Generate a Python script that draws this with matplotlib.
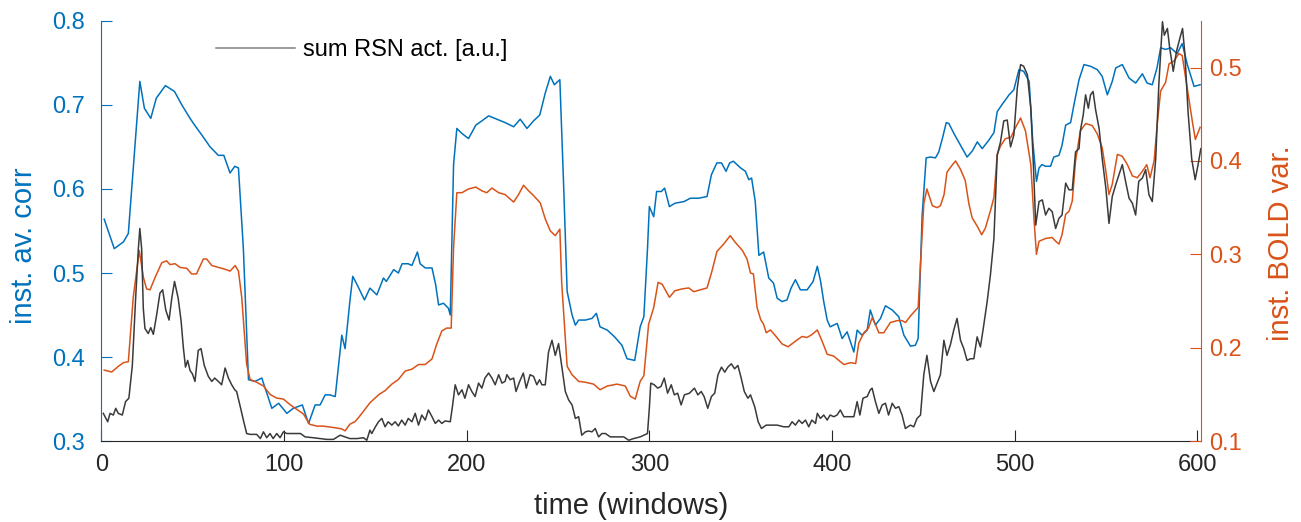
import matplotlib
matplotlib.use('Agg')
import matplotlib.pyplot as plt

# instantaneous average correlation (left axis)
corr_win = [1.5, 7, 12, 14.7, 21, 23.5, 27, 30, 35, 40, 44, 48.5, 51, 55, 59.5, 64, 67, 70.4, 73, 75,
            77.7, 80.5, 84, 87.8, 89.6, 93.3, 97, 101.5, 105, 110, 111.5, 113.4, 117, 119.7, 122.5, 125, 128,
            131.6, 133.4, 136, 137.6, 140, 144, 147, 150.8, 154.4, 156, 160, 162.6, 164.6, 168, 170, 173,
            174.5, 177.3, 181, 183, 184.6, 187.3, 190, 191, 192.8, 194.6, 197.4, 201, 205, 208.3, 212, 216.5,
            221, 225.7, 229.3, 233, 236.6, 240, 243, 245.8, 248, 251, 253, 255, 257.7, 259.5, 261.3, 265,
            268.6, 271, 273, 277, 281, 285, 287.8, 292, 295, 297, 299, 300, 302.4, 304, 306.6, 308.4, 311,
            314, 319, 322.5, 327, 331.6, 334, 337, 339.5, 342, 344, 346, 350, 352.6, 354.5, 356, 358, 360,
            362.6, 365.4, 368, 370, 372.7, 375.4, 377.6, 380, 382.7, 386.4, 389.7, 392, 393.8, 395.5, 397.4,
            399, 402.9, 405.6, 408.3, 412, 413.8, 416.5, 419.3, 421, 423.8, 426.6, 429.3, 433, 436.6, 439.4,
            443, 445.7, 447.2, 449.4, 451.6, 454, 456.7, 458.5, 460.7, 462.6, 464, 466.8, 470.4, 474, 476.8,
            479.6, 482.3, 485.9, 488.7, 490.5, 493, 497, 499.6, 502.4, 505, 508, 510, 512, 513.4, 515, 517,
            519.7, 521.5, 524.3, 526, 528, 530.7, 532.5, 535.3, 538, 541.6, 545.3, 548, 550.8, 553.5, 555.4,
            559, 562.7, 566.3, 570, 572.6, 575.4, 578, 580, 582.7, 585.5, 589, 591.8, 594.6, 598.3, 601.6]
corr = [0.564, 0.529, 0.537, 0.547, 0.728, 0.696, 0.684, 0.708, 0.723, 0.716, 0.700, 0.684, 0.676, 0.664,
        0.650, 0.640, 0.640, 0.619, 0.627, 0.625, 0.529, 0.373, 0.371, 0.375, 0.363, 0.339, 0.345, 0.333,
        0.339, 0.343, 0.333, 0.321, 0.343, 0.343, 0.355, 0.355, 0.353, 0.426, 0.410, 0.466, 0.496, 0.486,
        0.468, 0.482, 0.474, 0.494, 0.490, 0.504, 0.500, 0.511, 0.511, 0.509, 0.525, 0.511, 0.506, 0.506,
        0.486, 0.462, 0.464, 0.458, 0.450, 0.629, 0.672, 0.666, 0.660, 0.676, 0.681, 0.687, 0.683, 0.679,
        0.674, 0.683, 0.672, 0.681, 0.688, 0.714, 0.734, 0.724, 0.730, 0.609, 0.478, 0.450, 0.438, 0.444,
        0.444, 0.446, 0.452, 0.436, 0.432, 0.424, 0.414, 0.398, 0.396, 0.436, 0.448, 0.529, 0.579, 0.567,
        0.597, 0.597, 0.601, 0.579, 0.583, 0.585, 0.589, 0.589, 0.591, 0.617, 0.631, 0.631, 0.621, 0.631,
        0.633, 0.625, 0.621, 0.611, 0.613, 0.585, 0.521, 0.525, 0.494, 0.488, 0.470, 0.466, 0.468, 0.482,
        0.492, 0.480, 0.480, 0.490, 0.508, 0.490, 0.466, 0.444, 0.436, 0.440, 0.422, 0.430, 0.406, 0.432,
        0.426, 0.432, 0.456, 0.438, 0.446, 0.461, 0.456, 0.448, 0.426, 0.413, 0.414, 0.422, 0.569, 0.637,
        0.638, 0.637, 0.644, 0.662, 0.679, 0.678, 0.666, 0.652, 0.638, 0.645, 0.656, 0.648, 0.658, 0.667,
        0.692, 0.700, 0.712, 0.718, 0.742, 0.740, 0.728, 0.656, 0.609, 0.625, 0.629, 0.627, 0.627, 0.638,
        0.640, 0.652, 0.676, 0.679, 0.700, 0.730, 0.748, 0.746, 0.742, 0.734, 0.712, 0.728, 0.744, 0.748,
        0.732, 0.726, 0.737, 0.726, 0.724, 0.744, 0.768, 0.766, 0.768, 0.761, 0.773, 0.748, 0.722, 0.724]

# instantaneous BOLD variance (right axis)
bold_win = [1.5, 5.6, 9.2, 12, 14.7, 17.4, 20.7, 23, 24.7, 26.6, 29.3, 33, 35.7, 37.5, 40.3, 43, 46.7, 49.4,
            52, 55.8, 57.6, 60.4, 64, 67.7, 70.4, 73.2, 75, 76.8, 79.5, 81.4, 85, 88.7, 92.3, 96, 99.6, 103.3,
            107, 110.6, 114, 118, 121.6, 125.2, 128.9, 131.6, 133.4, 136, 138.9, 140.7, 143.5, 147, 152,
            155.3, 159, 162.6, 166.3, 170, 173.6, 177.3, 181, 183.6, 186.4, 189, 191.5, 192.8, 194.6, 197.4,
            201, 205, 208.3, 211, 213.8, 217.5, 221, 225.7, 228.4, 231.1, 233.9, 236.6, 240.3, 243, 245.8,
            248.5, 251, 252, 255, 257.7, 261.3, 265, 269.5, 273, 277, 282.3, 286.8, 289.6, 292.3, 295, 297,
            299.6, 302.4, 304.8, 307, 309, 311, 314, 318, 321.6, 324.3, 328, 331.6, 334.3, 337, 340.7, 344.3,
            347, 351, 353.5, 355.4, 357, 359, 361, 362.6, 364, 366.3, 369, 372.7, 376, 380, 383.6, 386.4, 389,
            392, 394.6, 397.4, 401, 404, 406.6, 410.2, 413, 414.7, 417.5, 420, 422, 423.8, 425.7, 428.4, 432,
            435.7, 438.4, 440.3, 443, 444.8, 447.2, 449, 450.3, 452, 455, 457.6, 459.4, 461.4, 463, 466,
            467.7, 470.4, 473, 475, 476.8, 479.6, 482, 484, 487, 488.7, 490.5, 492.3, 495, 497.9, 500.6,
            503.3, 506, 508.9, 510.7, 512, 513.4, 517, 520.6, 522.5, 524.3, 526, 528, 529.8, 531.6, 533.4,
            536, 538.9, 542.5, 545.3, 548, 550, 551.7, 553.5, 556.3, 559, 561.8, 564.5, 567.2, 570, 572.4,
            574.2, 576.4, 578.2, 580, 582.7, 584.6, 587.3, 590, 591.8, 594.6, 597.3, 599, 601.6]
bold = [0.176, 0.174, 0.180, 0.184, 0.185, 0.254, 0.304, 0.275, 0.263, 0.262, 0.275, 0.291, 0.293, 0.289,
        0.290, 0.286, 0.285, 0.279, 0.279, 0.295, 0.295, 0.288, 0.286, 0.284, 0.282, 0.288, 0.282, 0.254,
        0.182, 0.166, 0.163, 0.159, 0.150, 0.146, 0.145, 0.139, 0.134, 0.129, 0.118, 0.116, 0.116, 0.115,
        0.114, 0.113, 0.111, 0.118, 0.121, 0.125, 0.132, 0.141, 0.150, 0.154, 0.161, 0.166, 0.175, 0.177,
        0.182, 0.182, 0.188, 0.204, 0.218, 0.221, 0.221, 0.307, 0.366, 0.366, 0.370, 0.372, 0.368, 0.366,
        0.371, 0.366, 0.364, 0.356, 0.364, 0.374, 0.368, 0.363, 0.355, 0.338, 0.325, 0.320, 0.327, 0.270,
        0.180, 0.171, 0.164, 0.163, 0.161, 0.155, 0.159, 0.161, 0.159, 0.148, 0.145, 0.164, 0.170, 0.225,
        0.243, 0.270, 0.268, 0.261, 0.254, 0.261, 0.263, 0.264, 0.260, 0.262, 0.264, 0.282, 0.303, 0.311,
        0.320, 0.313, 0.304, 0.295, 0.280, 0.279, 0.243, 0.230, 0.225, 0.216, 0.219, 0.213, 0.204, 0.201,
        0.207, 0.212, 0.211, 0.214, 0.219, 0.207, 0.193, 0.191, 0.186, 0.182, 0.184, 0.183, 0.205, 0.216,
        0.221, 0.232, 0.225, 0.216, 0.216, 0.227, 0.229, 0.229, 0.227, 0.234, 0.238, 0.243, 0.307, 0.354,
        0.370, 0.352, 0.350, 0.352, 0.364, 0.388, 0.396, 0.400, 0.391, 0.379, 0.354, 0.339, 0.330, 0.321,
        0.328, 0.348, 0.361, 0.407, 0.416, 0.424, 0.425, 0.436, 0.446, 0.432, 0.396, 0.336, 0.300, 0.314,
        0.317, 0.318, 0.314, 0.311, 0.321, 0.343, 0.346, 0.357, 0.400, 0.432, 0.440, 0.438, 0.429, 0.414,
        0.389, 0.364, 0.375, 0.407, 0.405, 0.396, 0.384, 0.382, 0.389, 0.396, 0.382, 0.400, 0.441, 0.475,
        0.484, 0.504, 0.507, 0.515, 0.513, 0.477, 0.443, 0.423, 0.436]

# summed RSN activity, drawn in left-axis units
act_win = [1, 3.4, 4.7, 6.5, 7.8, 9.2, 11.4, 13.2, 15, 16.9, 18.7, 20.2, 21, 22, 22.9, 23.8, 25.6, 27, 28.4,
           30.2, 32, 33.5, 35.2, 37, 38.5, 40, 41.2, 42, 43.6, 44.8, 46, 47.2, 48.5, 49.8, 51.2, 53, 54.5,
           56.3, 58.5, 60.4, 62, 64, 65.8, 67.7, 69.5, 71.3, 73, 74, 76, 77.7, 79.5, 81.4, 85, 87, 88.7, 90.5,
           92.3, 94, 96, 97.8, 99.6, 101.5, 105, 109, 111.5, 116, 119.7, 123.4, 127, 130.7, 133.4, 136, 140,
           143.5, 145.3, 147, 148, 150, 151.7, 153.5, 155.3, 157, 159, 160.8, 162.6, 164.4, 166.3, 168, 170,
           171.8, 173.6, 175.4, 177.3, 179, 181, 182.8, 184.6, 186.4, 188.2, 191, 192.3, 193.7, 195.5, 197.4,
           199, 201, 202.8, 204.6, 206.5, 208.3, 210, 212, 213.8, 215.6, 217.5, 219.3, 221, 222, 223.8,
           225.7, 227, 229, 231, 232.6, 234.7, 236.6, 238.4, 239.9, 241.2, 243, 244.8, 246.7, 248.5, 250.3,
           252, 254, 255.8, 257.7, 259.5, 261.3, 263, 265, 266.7, 268.6, 270.4, 272.2, 274, 276, 278.6,
           282.3, 286, 288.7, 291.4, 295, 297, 299, 300, 300.8, 302.7, 304.6, 306.4, 308.2, 310, 312, 313.7,
           315.5, 317.4, 319.2, 322, 324.7, 326.6, 328.4, 330, 332, 334, 335.8, 337.6, 339.5, 341.3, 343,
           344.9, 346.7, 348.5, 350.3, 352, 354, 355.4, 357.7, 359.6, 361.4, 364, 367.8, 370, 373.6, 376.4,
           378.2, 380, 381.9, 383.7, 385.5, 387.3, 389, 391, 392, 393.7, 395.5, 397.4, 399, 401, 402.8,
           404.6, 406.5, 409, 412, 413.8, 415.3, 417, 419.3, 421, 422, 423.8, 425.7, 427.5, 429.3, 431, 433,
           434.8, 436.6, 438.4, 440.2, 443, 444.8, 446.6, 448.5, 450.3, 452, 454, 455.8, 457.6, 459.4, 461.3,
           463, 464.9, 466.7, 468.5, 470.4, 472.2, 474, 475.9, 477.7, 479.5, 481.3, 483, 485, 486.8, 488.7,
           490.5, 492.3, 494.1, 496, 497.8, 499.6, 501.5, 503.3, 505, 507, 508.9, 510.3, 511.6, 513.4,
           515.2, 517, 518.8, 520.6, 522.5, 524.3, 526, 528, 529.8, 531.6, 533.4, 535.3, 536.1, 537.6, 538.9,
           540.4, 541.6, 543, 544.4, 546.3, 548, 550, 551.7, 553.5, 555.4, 557.2, 559, 560.8, 562.7, 564.5,
           566.3, 568, 570, 571.8, 573.6, 575.4, 577.3, 579, 581, 582, 583.7, 585, 586.9, 588.7, 590.6, 592,
           593.3, 595, 597, 598.9, 600.5, 602]
act = [0.333, 0.323, 0.333, 0.331, 0.339, 0.333, 0.331, 0.347, 0.351, 0.390, 0.470, 0.529, 0.553, 0.529,
       0.458, 0.434, 0.428, 0.435, 0.427, 0.450, 0.476, 0.480, 0.456, 0.444, 0.470, 0.490, 0.478, 0.470,
       0.443, 0.412, 0.388, 0.396, 0.384, 0.380, 0.371, 0.408, 0.410, 0.390, 0.377, 0.371, 0.375, 0.371,
       0.367, 0.387, 0.375, 0.367, 0.361, 0.359, 0.341, 0.325, 0.309, 0.308, 0.308, 0.303, 0.311, 0.304,
       0.309, 0.303, 0.309, 0.304, 0.311, 0.309, 0.309, 0.309, 0.305, 0.304, 0.303, 0.302, 0.302, 0.307,
       0.305, 0.303, 0.303, 0.304, 0.301, 0.313, 0.309, 0.317, 0.323, 0.327, 0.317, 0.323, 0.319, 0.323,
       0.318, 0.325, 0.319, 0.327, 0.323, 0.333, 0.319, 0.331, 0.325, 0.337, 0.329, 0.321, 0.325, 0.321,
       0.324, 0.323, 0.343, 0.367, 0.355, 0.361, 0.351, 0.367, 0.359, 0.353, 0.369, 0.363, 0.375, 0.381,
       0.375, 0.367, 0.379, 0.369, 0.371, 0.379, 0.373, 0.375, 0.359, 0.371, 0.381, 0.363, 0.379, 0.377,
       0.367, 0.373, 0.367, 0.367, 0.406, 0.420, 0.402, 0.416, 0.390, 0.359, 0.349, 0.343, 0.327, 0.329,
       0.307, 0.311, 0.312, 0.311, 0.315, 0.305, 0.309, 0.309, 0.305, 0.305, 0.305, 0.301, 0.303, 0.305,
       0.307, 0.309, 0.339, 0.369, 0.367, 0.363, 0.365, 0.375, 0.357, 0.367, 0.355, 0.357, 0.343, 0.355,
       0.357, 0.363, 0.355, 0.359, 0.353, 0.339, 0.353, 0.357, 0.379, 0.388, 0.382, 0.388, 0.392, 0.386,
       0.390, 0.375, 0.359, 0.351, 0.355, 0.341, 0.323, 0.315, 0.319, 0.319, 0.319, 0.317, 0.317, 0.323,
       0.319, 0.325, 0.321, 0.325, 0.317, 0.325, 0.321, 0.333, 0.327, 0.331, 0.325, 0.331, 0.329, 0.331,
       0.337, 0.329, 0.329, 0.329, 0.347, 0.331, 0.351, 0.353, 0.361, 0.363, 0.347, 0.333, 0.343, 0.345,
       0.331, 0.345, 0.339, 0.341, 0.331, 0.315, 0.319, 0.317, 0.327, 0.331, 0.379, 0.402, 0.371, 0.359,
       0.369, 0.379, 0.420, 0.402, 0.415, 0.432, 0.446, 0.420, 0.410, 0.396, 0.398, 0.398, 0.424, 0.412,
       0.436, 0.466, 0.498, 0.541, 0.640, 0.656, 0.681, 0.682, 0.650, 0.664, 0.720, 0.748, 0.746, 0.736,
       0.696, 0.629, 0.557, 0.585, 0.587, 0.569, 0.577, 0.573, 0.553, 0.565, 0.569, 0.607, 0.599, 0.599,
       0.644, 0.648, 0.670, 0.688, 0.712, 0.696, 0.712, 0.716, 0.694, 0.672, 0.636, 0.601, 0.559, 0.591,
       0.605, 0.617, 0.629, 0.609, 0.589, 0.583, 0.569, 0.609, 0.613, 0.623, 0.593, 0.585, 0.636, 0.724,
       0.799, 0.783, 0.791, 0.767, 0.740, 0.764, 0.780, 0.791, 0.760, 0.692, 0.636, 0.611, 0.629, 0.648]

BLUE = '#0072BD'
ORANGE = '#D95319'
DARK = '#262626'
FONT = ['Liberation Sans', 'DejaVu Sans']

plt.rcParams['font.family'] = FONT

fig = plt.figure(figsize=(13.01, 5.22), dpi=100)
ax = fig.add_axes([0.078, 0.155, 0.845, 0.805])
ax2 = ax.twinx()

ax.plot(corr_win, corr, color=BLUE, lw=1.1)
ax2.plot(bold_win, bold, color=ORANGE, lw=1.1)
# black line uses left-axis units but sits on top of everything
ax2.plot(act_win, act, color='#3a3a3a', lw=1.1, transform=ax.transData,
         label='sum RSN act. [a.u.]')

ax.set_xlim(0, 602)
ax.set_ylim(0.3, 0.8)
ax2.set_ylim(0.1, 0.55)
ax.set_xticks([0, 100, 200, 300, 400, 500, 600])
ax.set_yticks([0.3, 0.4, 0.5, 0.6, 0.7, 0.8])
ax2.set_yticks([0.1, 0.2, 0.3, 0.4, 0.5])

for a in (ax, ax2):
    a.spines['top'].set_visible(False)
ax.spines['right'].set_visible(False)
ax2.spines['left'].set_visible(False)
ax.spines['left'].set_color(BLUE)
ax2.spines['right'].set_color(ORANGE)
ax.spines['bottom'].set_color(DARK)
ax2.spines['bottom'].set_visible(False)

ax.tick_params(axis='y', direction='in', length=8, colors=BLUE, labelsize=17, pad=12)
ax2.tick_params(axis='y', direction='in', length=8, colors=ORANGE, labelsize=17, pad=6)
ax.tick_params(axis='x', direction='in', length=8, colors=DARK, labelsize=17, pad=9)

ax.set_ylabel('inst. av. corr', color=BLUE, fontsize=21)
ax.yaxis.set_label_coords(-0.058, 0.464)
ax2.set_ylabel('inst. BOLD var.', color=ORANGE, fontsize=21)
ax2.yaxis.set_label_coords(1.0605, 0.471)
ax.set_xlabel('time (windows)', color=DARK, fontsize=21)
ax.xaxis.set_label_coords(0.482, -0.12)

leg = ax2.legend(loc='center left', bbox_to_anchor=(0.1042, 0.93), frameon=False,
                 fontsize=17, handlelength=3.35, handletextpad=0.34,
                 borderpad=0, borderaxespad=0)
for h in leg.get_lines():
    h.set_color('#808080')

fig.savefig('out.png', dpi=100)
